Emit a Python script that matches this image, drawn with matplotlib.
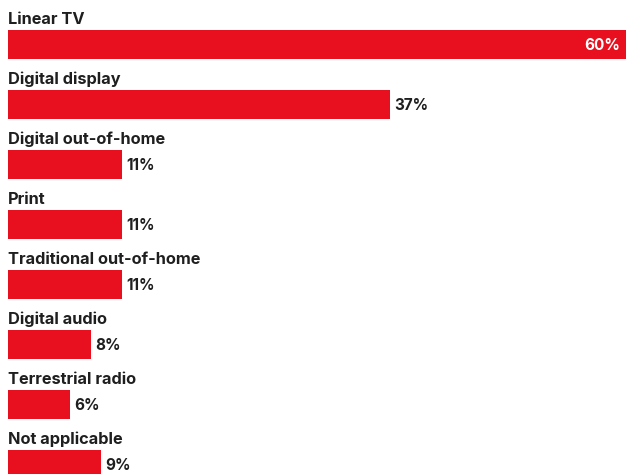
import matplotlib.pyplot as plt
import numpy as np

#%% Data
categories = ['Linear TV', 'Digital display', 'Digital out-of-home', 'Print',
              'Traditional out-of-home', 'Digital audio', 'Terrestrial radio',
              'Not applicable']
values = [60, 37, 11, 11, 11, 8, 6, 9]

RED = '#e8101e'
TXT = '#1f1f1f'
plt.rcParams['font.family'] = ['Inter', 'DejaVu Sans']

#%% Plot
fig = plt.figure(figsize=(6.26, 4.74), dpi=100)
ax = fig.add_axes([0, 0, 1, 1])
pos = np.arange(len(categories))
ax.barh(pos, values, height=0.483, color=RED, linewidth=0)

for i, (cat, v) in enumerate(zip(categories, values)):
    ax.text(0, i - 0.34, cat, ha='left', va='baseline', fontsize=11.75,
            fontweight='bold', color=TXT)
    if v >= 50:
        ax.text(v - 0.7, i + 0.02, '%d%%' % v, ha='right', va='center',
                fontsize=11, fontweight='bold', color='white')
    else:
        ax.text(v + 0.45, i + 0.02, '%d%%' % v, ha='left', va='center',
                fontsize=11, fontweight='bold', color=TXT)

ax.set_xlim(-0.775, 59.88)
ax.set_ylim(7.158, -0.742)
ax.axis('off')
fig.savefig('out.png', dpi=100, facecolor='white')
